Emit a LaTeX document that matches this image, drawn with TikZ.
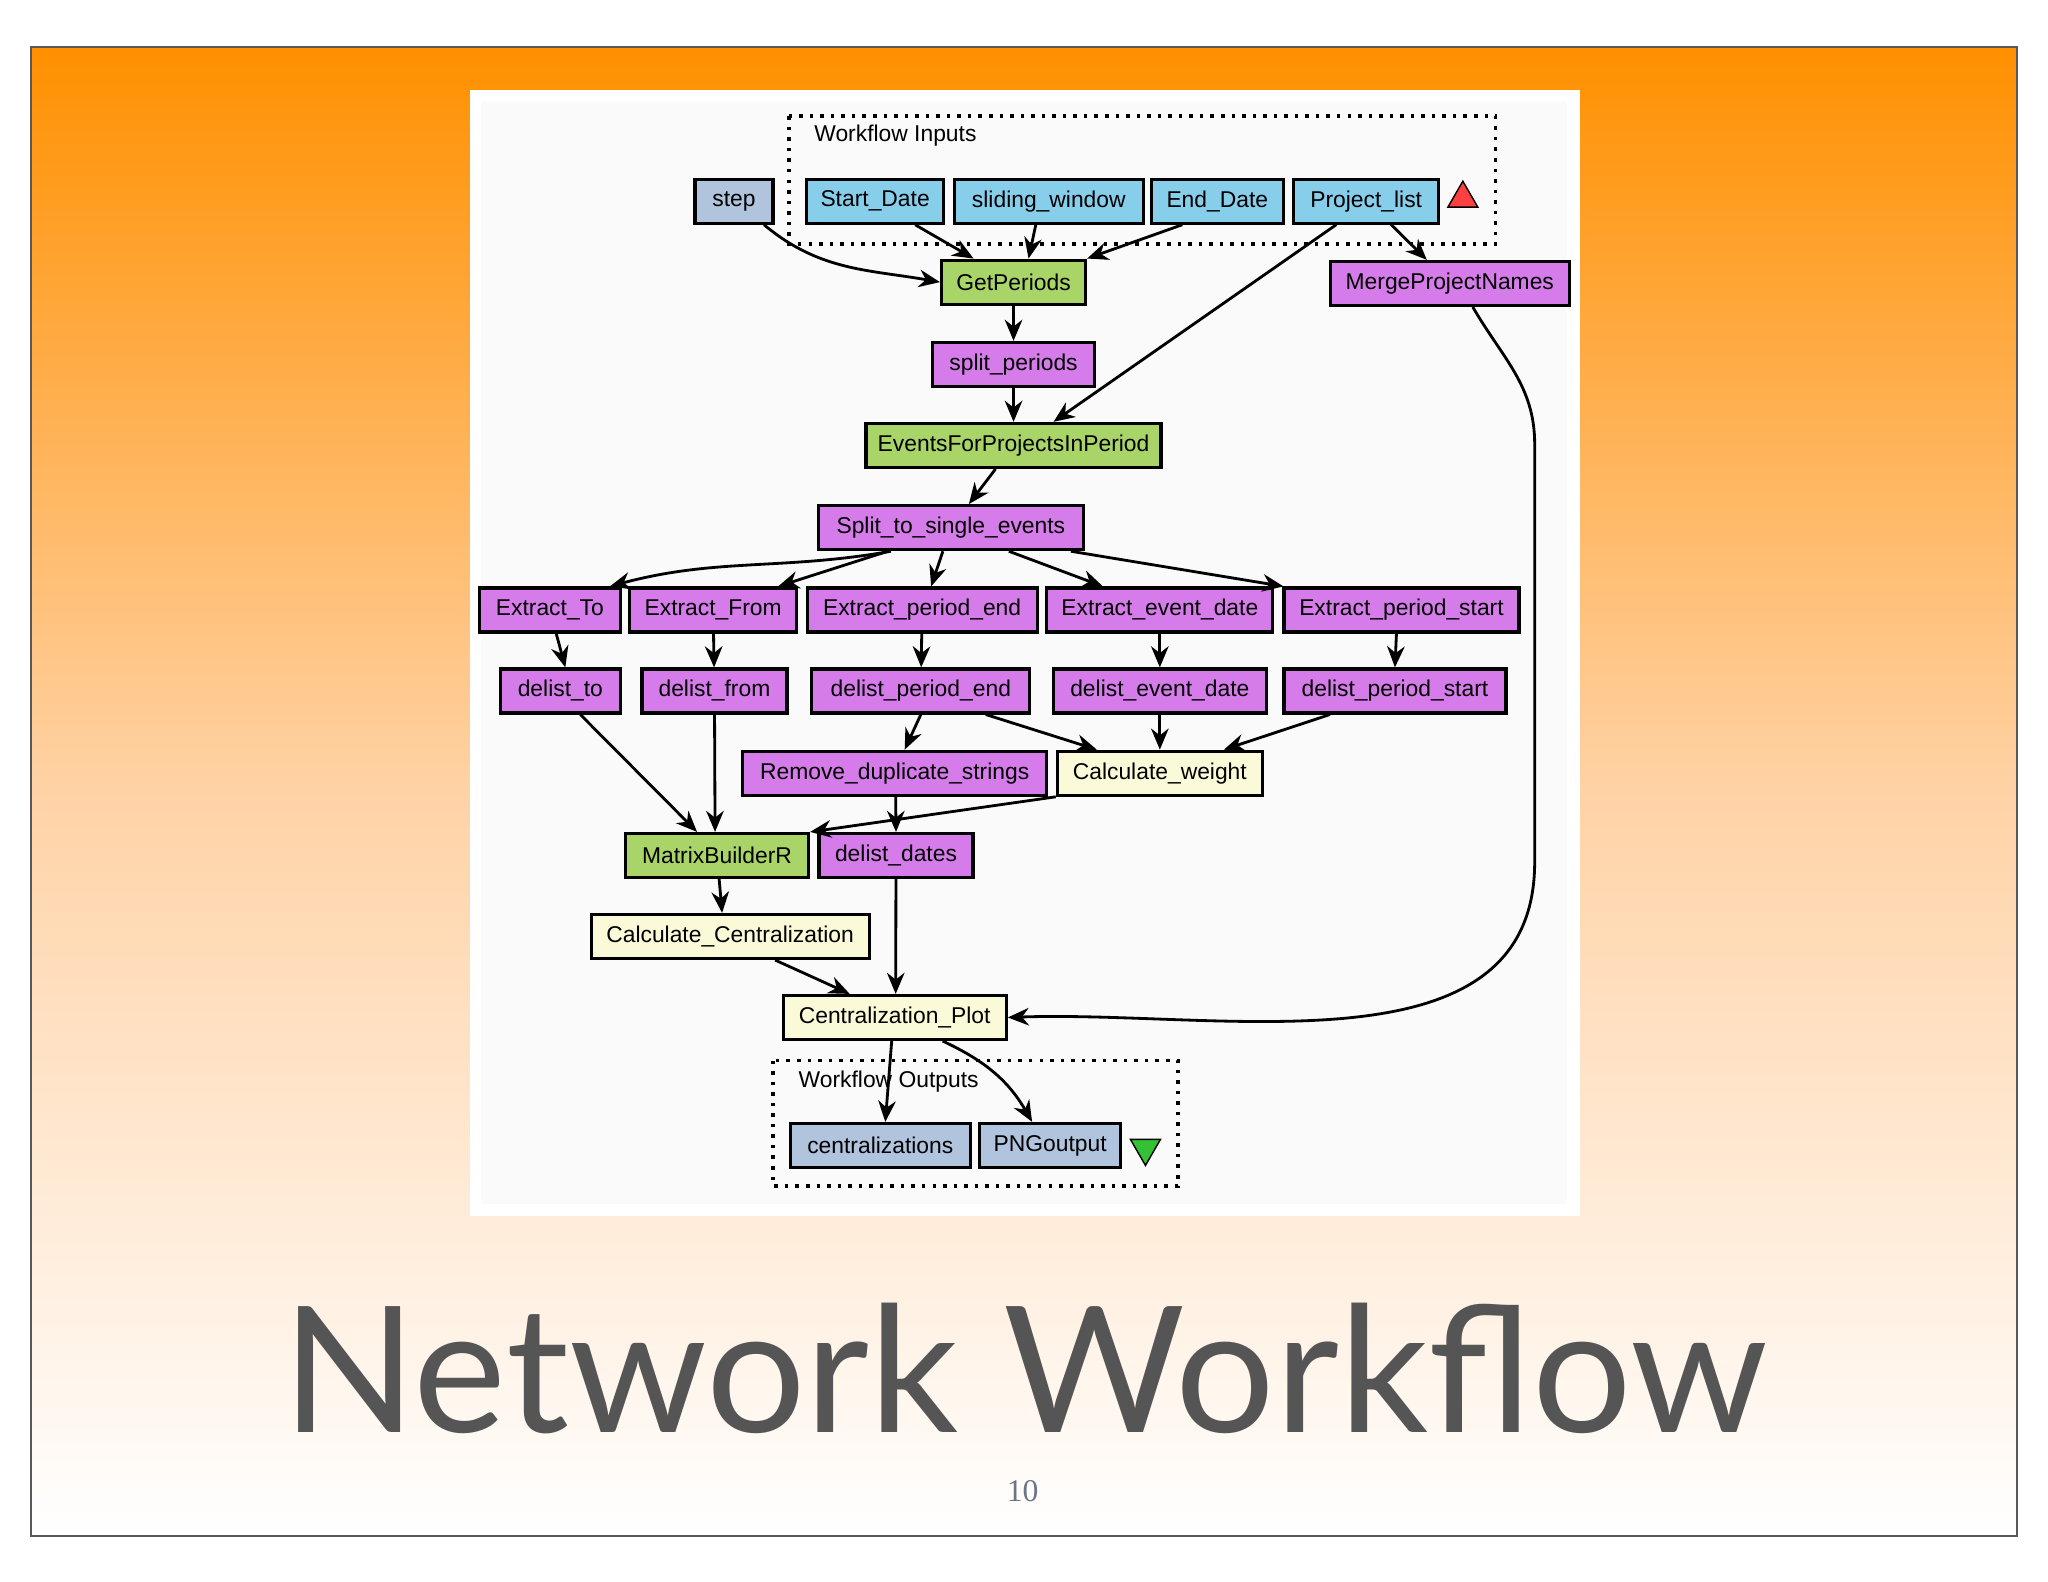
\documentclass[tikz,border=0pt]{standalone}
\usepackage{fontspec}
\setmainfont{Liberation Sans}
\newfontfamily\titlefont{Lato}
\newfontfamily\numfont{Liberation Serif}
\usetikzlibrary{arrows.meta,shapes.geometric}
\definecolor{slideorange}{HTML}{FF9000}
\definecolor{inblue}{HTML}{87CEEB}
\definecolor{stepblue}{HTML}{B0C4DE}
\definecolor{procgreen}{HTML}{A8D468}
\definecolor{procpurple}{HTML}{D67BEA}
\definecolor{rshell}{HTML}{FAFAD8}
\definecolor{titlegray}{HTML}{555555}
\tikzset{
  box/.style={draw=black, line width=0.9pt, minimum height=0.44cm, inner sep=0pt, font=\fontsize{6.5}{7}\selectfont},
  inp/.style={box, fill=inblue},
  stp/.style={box, fill=stepblue},
  grn/.style={box, fill=procgreen},
  pur/.style={box, fill=procpurple},
  ylw/.style={box, fill=rshell},
  outp/.style={box, fill=stepblue},
  flow/.style={-{Stealth[length=6pt,width=5pt]}, line width=0.8pt},
  port/.style={dotted, line width=1pt}
}
\begin{document}
\begin{tikzpicture}[x=0.01306cm, y=-0.01306cm]
\useasboundingbox (0,0) rectangle (1568,1211);
\fill[white] (0,0) rectangle (1568,1211);
\shade[top color=slideorange, bottom color=white, middle color=orange!35] (24,36) rectangle (1544,1176);
\draw[gray!70!black, line width=0.6pt] (24,36) rectangle (1544,1176);
\fill[white] (360,69) rectangle (1210,931);
\fill[gray!4] (368,78) rectangle (1200,922);

% port boxes
\draw[port] (604,89) rectangle (1145,187);
\node[anchor=west, font=\fontsize{6.5}{7}\selectfont] (inlab) at (614,104) {Workflow Inputs};
\draw[port] (592,812) rectangle (902,908);
\node[anchor=west, font=\fontsize{6.5}{7}\selectfont] (outlab) at (602,828) {Workflow Outputs};

% inputs
\node[stp, minimum width=0.78cm] (step) at (562,154) {step};
\node[inp, minimum width=1.37cm] (sd) at (670,154) {Start\_Date};
\node[inp, minimum width=1.89cm] (sw) at (803,154) {sliding\_window};
\node[inp, minimum width=1.32cm] (ed) at (932,154) {End\_Date};
\node[inp, minimum width=1.45cm] (pl) at (1046,154) {Project\_list};
\node[draw=black, fill=red!75, isosceles triangle, shape border rotate=90, minimum size=0.26cm, inner sep=0pt, isosceles triangle apex angle=60] (tri1) at (1120,152) {};

% processors
\node[grn, minimum width=1.44cm] (gp) at (776,216) {GetPeriods};
\node[pur, minimum width=2.39cm] (mpn) at (1110,217) {MergeProjectNames};
\node[pur, minimum width=1.62cm] (spp) at (776,279) {split\_periods};
\node[grn, minimum width=2.95cm] (efp) at (776,341) {EventsForProjectsInPeriod};
\node[pur, minimum width=2.65cm] (sse) at (728,404) {Split\_to\_single\_events};
\node[pur, minimum width=1.41cm] (eto) at (421,467) {Extract\_To};
\node[pur, minimum width=1.67cm] (efr) at (546,467) {Extract\_From};
\node[pur, minimum width=2.30cm] (epe) at (706,467) {Extract\_period\_end};
\node[pur, minimum width=2.26cm] (eed) at (888,467) {Extract\_event\_date};
\node[pur, minimum width=2.35cm] (eps) at (1073,467) {Extract\_period\_start};
\node[pur, minimum width=1.20cm] (dto) at (429,529) {delist\_to};
\node[pur, minimum width=1.45cm] (dfr) at (547,529) {delist\_from};
\node[pur, minimum width=2.18cm] (dpe) at (705,529) {delist\_period\_end};
\node[pur, minimum width=2.13cm] (ded) at (888,529) {delist\_event\_date};
\node[pur, minimum width=2.22cm] (dps) at (1068,529) {delist\_period\_start};
\node[pur, minimum width=3.04cm] (rds) at (685,592) {Remove\_duplicate\_strings};
\node[ylw, minimum width=2.05cm] (cw) at (888,592) {Calculate\_weight};
\node[grn, minimum width=1.83cm] (mb) at (549,655) {MatrixBuilderR};
\node[pur, minimum width=1.54cm] (dd) at (686,655) {delist\_dates};
\node[ylw, minimum width=2.78cm] (cc) at (559,717) {Calculate\_Centralization};
\node[ylw, minimum width=2.23cm] (cp) at (685,779) {Centralization\_Plot};

% outputs
\node[outp, minimum width=1.80cm] (cen) at (674,877) {centralizations};
\node[outp, minimum width=1.41cm] (png) at (804,877) {PNGoutput};
\node[draw=black, fill=green!70!black!80, isosceles triangle, shape border rotate=-90, minimum size=0.26cm, inner sep=0pt, isosceles triangle apex angle=60] (tri2) at (877,879) {};

% links
\coordinate (bend1) at (1175,340);
\coordinate (bend2) at (1175,660);
\draw[flow] ([xshift=0.3cm]step.south) to[out=-40,in=170] (gp.west);
\draw[flow] ([xshift=0.4cm]sd.south) -- ([xshift=-0.4cm]gp.north);
\draw[flow] ([xshift=-0.13cm]sw.south) -- ([xshift=0.15cm]gp.north);
\draw[flow] ([xshift=-0.35cm]ed.south) -- (gp.north east);
\draw[flow] ([xshift=-0.3cm]pl.south) -- ([xshift=0.4cm]efp.north);
\draw[flow] ([xshift=0.25cm]pl.south) -- ([xshift=-0.23cm]mpn.north);
\draw[flow] (gp) -- (spp);
\draw[flow] (spp) -- (efp);
\draw[flow] ([xshift=-0.18cm]efp.south) -- ([xshift=0.18cm]sse.north);
\draw[flow] ([xshift=-0.6cm]sse.south) to[out=190,in=15] ([xshift=0.6cm]eto.north);
\draw[flow] ([xshift=-0.63cm]sse.south) -- ([xshift=0.65cm]efr.north);
\draw[flow] ([xshift=-0.08cm]sse.south) -- ([xshift=0.09cm]epe.north);
\draw[flow] ([xshift=0.58cm]sse.south) -- ([xshift=-0.57cm]eed.north);
\draw[flow] ([xshift=1.2cm]sse.south) -- ([xshift=-1.18cm]eps.north);
\draw[flow] (eto) -- ([xshift=0.05cm]dto.north);
\draw[flow] (efr) -- (dfr);
\draw[flow] (epe) -- (dpe);
\draw[flow] (eed) -- (ded);
\draw[flow] ([xshift=-0.05cm]eps.south) -- (dps.north);
\draw[flow] ([xshift=0.2cm]dto.south) -- ([xshift=-0.2cm]mb.north);
\draw[flow] (dfr) -- ([xshift=-0.02cm]mb.north);
\draw[flow] (dpe.south) -- ([xshift=0.1cm]rds.north);
\draw[flow] ([xshift=0.65cm]dpe.south) -- ([xshift=-0.63cm]cw.north);
\draw[flow] (ded) -- (cw);
\draw[flow] ([xshift=-0.65cm]dps.south) -- ([xshift=0.64cm]cw.north);
\draw[flow] (cw.south west) -- (mb.north east);
\draw[flow] ([xshift=0.01cm]rds.south) -- (dd.north);
\draw[flow] (mb) -- ([xshift=-0.08cm]cc.north);
\draw[flow] ([xshift=0.45cm]cc.south) -- ([xshift=-0.45cm]cp.north);
\draw[flow] (dd) -- ([xshift=0.01cm]cp.north);
\draw[flow] ([xshift=0.23cm]mpn.south) to[out=-60,in=90] (bend1) -- (bend2) to[out=-90,in=2] (cp.east);
\draw[flow] ([xshift=-0.03cm]cp.south) -- ([xshift=0.05cm]cen.north);
\draw[flow] ([xshift=0.48cm]cp.south) to[out=-25,in=120] ([xshift=-0.18cm]png.north);

% title
\node[font=\titlefont\fontsize{50}{56}\selectfont, text=titlegray] (title) at (785,1048) {Network Workflow};
\node[font=\numfont\fontsize{9}{10}\selectfont, text=stepblue!60!black] (pgnum) at (783,1142) {10};
\end{tikzpicture}
\end{document}
